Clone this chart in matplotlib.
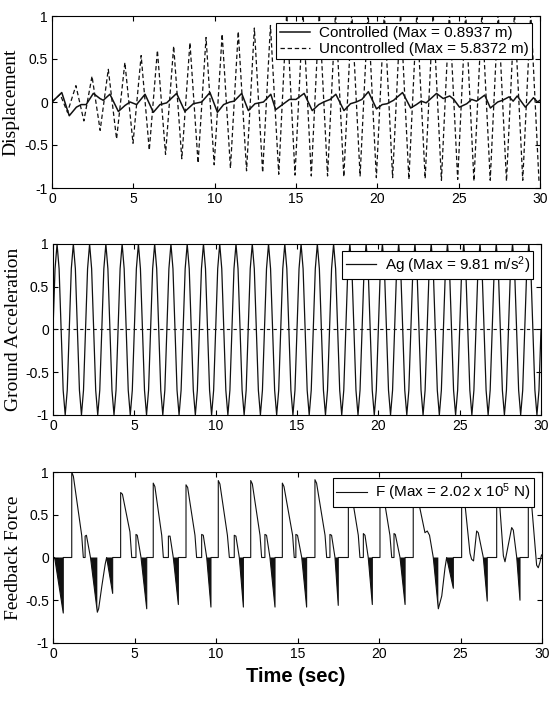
import numpy as np
import matplotlib
matplotlib.use("Agg")
import matplotlib.pyplot as plt

plt.rcParams["font.family"] = ["Liberation Sans", "DejaVu Sans"]
plt.rcParams["axes.unicode_minus"] = False
plt.rcParams["mathtext.fontset"] = "custom"
plt.rcParams["mathtext.rm"] = "Liberation Sans"
plt.rcParams["mathtext.it"] = "Liberation Sans:italic"
plt.rcParams["mathtext.bf"] = "Liberation Sans:bold"

# ---- values (all normalised to +-1) ----
# uncontrolled displacement: extremes of each half cycle (peaks past 1 are clipped by the axes)
unc_t = [0.0, 0.5, 0.95, 1.47, 1.96, 2.46, 2.96, 3.46, 3.97, 4.48, 4.98, 5.48, 5.98,
         6.48, 6.98, 7.48, 7.98, 8.48, 8.98, 9.47, 9.97, 10.46, 10.97, 11.45, 11.96,
         12.44, 12.95, 13.43, 13.94, 14.43, 14.94, 15.43, 15.94, 16.43, 16.94, 17.43,
         17.94, 18.43, 18.94, 19.43, 19.94, 20.43, 20.94, 21.43, 21.94, 22.43, 22.94,
         23.43, 23.94, 24.43, 24.94, 25.43, 25.94, 26.43, 26.94, 27.43, 27.94, 28.43,
         28.94, 29.43, 29.94]
unc_v = [0.0, 0.09, -0.12, 0.19, -0.22, 0.30, -0.33, 0.38, -0.43, 0.46, -0.48, 0.54, -0.56,
         0.60, -0.61, 0.65, -0.66, 0.69, -0.71, 0.75, -0.73, 0.79, -0.77, 0.82, -0.80,
         0.86, -0.82, 0.89, -0.84, 1.05, -0.85, 1.05, -0.86, 1.05, -0.86, 1.05,
         -0.87, 1.05, -0.86, 1.05, -0.88, 1.05, -0.88, 1.05, -0.90, 1.05, -0.89,
         1.05, -0.91, 1.05, -0.90, 1.05, -0.92, 1.05, -0.91, 1.05, -0.92, 1.05,
         -0.91, 1.05, -0.93]

# controlled displacement
ctrl_t = [0.0, 0.6, 1.06, 1.5, 1.8, 2.1, 2.54, 2.95, 3.15, 3.56, 4.08, 4.49, 4.8, 5.2,
          5.72, 6.23, 6.64, 7.05, 7.66, 8.17, 8.69, 9.2, 9.71, 10.17, 10.55, 10.94, 11.2,
          11.66, 12.07, 12.48, 13.0, 13.45, 13.75, 14.1, 14.6, 15.0, 15.5, 16.0, 16.4,
          16.7, 17.1, 17.45, 17.95, 18.35, 18.7, 19.05, 19.45, 19.95, 20.3, 20.6, 21.0,
          21.55, 22.05, 22.4, 22.7, 23.0, 23.64, 24.05, 24.45, 24.7, 25.05, 25.5, 25.8,
          26.1, 26.6, 26.95, 27.4, 27.7, 28.1, 28.35, 28.6, 29.1, 29.6, 29.85, 30.0]
ctrl_v = [0.0, 0.11, -0.16, -0.06, -0.03, -0.03, 0.10, 0.04, 0.02, 0.09, -0.11, -0.04, 0.0,
          -0.03, 0.09, -0.12, -0.03, -0.01, 0.10, -0.11, -0.02, 0.0, 0.11, -0.12, -0.03,
          0.0, 0.01, 0.10, -0.10, -0.02, 0.0, 0.09, -0.09, -0.04, 0.03, 0.03, 0.10, -0.10,
          -0.03, 0.0, 0.03, 0.09, -0.10, -0.02, 0.0, 0.03, 0.12, -0.08, -0.03, -0.02, 0.02,
          0.11, -0.07, -0.03, 0.01, -0.01, 0.10, 0.04, 0.07, 0.03, -0.06, -0.02, 0.03,
          0.01, 0.08, -0.07, 0.0, 0.02, 0.06, 0.01, 0.07, -0.06, 0.05, 0.0, 0.02]

# ground acceleration: one sampled cycle (1 s), repeated for the 30 s record
ag_cycle = [0.0, 0.71, 1.0, 0.71, 0.0, -0.71, -1.0, -0.71]
ag_cycles = 30
ag_period = 1.0

# feedback force outline
f_t = [0, 0.1, 0.63, 0.63, 1.15, 1.15, 1.25, 1.76, 1.86, 1.97, 1.97, 2.05, 2.3, 2.72, 2.8,
       3.0, 3.2, 3.29, 3.66, 3.66, 4.15, 4.15, 4.26, 4.72, 4.83, 5.09, 5.09, 5.17, 5.4,
       5.75, 5.75, 6.15, 6.15, 6.25, 6.67, 6.77, 7.08, 7.08, 7.18, 7.38, 7.69, 7.69, 8.16,
       8.16, 8.26, 8.71, 8.81, 9.12, 9.12, 9.22, 9.43, 9.69, 9.69, 10.14, 10.14, 10.24,
       10.7, 10.82, 11.12, 11.12, 11.22, 11.43, 11.68, 11.68, 12.13, 12.13, 12.23, 12.7,
       12.8, 13.0, 13.0, 13.1, 13.31, 13.62, 13.62, 14.07, 14.07, 14.17, 14.7, 14.8, 14.9,
       14.9, 15.0, 15.26, 15.56, 15.56, 16.07, 16.07, 16.17, 16.69, 16.79, 16.99, 16.99,
       17.09, 17.3, 17.5, 17.5, 18.12, 18.12, 18.22, 18.73, 18.83, 19.04, 19.04, 19.14,
       19.34, 19.59, 19.59, 20.06, 20.06, 20.16, 20.67, 20.78, 20.92, 20.92, 21.0, 21.29,
       21.6, 21.6, 22.1, 22.1, 22.2, 22.82, 22.96, 23.1, 23.33, 23.64, 23.85, 24.05, 24.15,
       24.56, 24.56, 25.07, 25.07, 25.17, 25.58, 25.68, 25.8, 25.99, 26.09, 26.4, 26.64,
       26.64, 27.22, 27.22, 27.32, 27.63, 27.73, 28.14, 28.24, 28.45, 28.65, 28.65, 29.16,
       29.16, 29.26, 29.67, 29.77, 29.87, 29.97]
f_v = [0, 0, -0.65, 0, 0, 1.0, 0.95, 0.26, 0, 0, 0.25, 0.26, 0, -0.64, -0.6,
       -0.33, -0.08, 0, -0.42, 0, 0, 0.76, 0.74, 0.30, 0, 0, 0.27, 0.26, 0,
       -0.6, 0, 0, 0.87, 0.83, 0.26, 0, 0, 0.25, 0.25, 0, -0.55, 0, 0,
       0.85, 0.82, 0.26, 0, 0, 0.27, 0.26, 0, -0.58, 0, 0, 0.9, 0.86,
       0.26, 0, 0, 0.26, 0.25, 0, -0.58, 0, 0, 0.9, 0.86, 0.26,
       0, 0, 0.27, 0.26, 0, -0.58, 0, 0, 0.87, 0.83, 0.26, 0, 0,
       0.27, 0.26, 0, -0.58, 0, 0, 0.91, 0.87, 0.26, 0, 0, 0.27,
       0.26, 0, -0.56, 0, 0, 0.9, 0.86, 0.26, 0, 0, 0.28, 0.26,
       0, -0.55, 0, 0, 0.9, 0.86, 0.26, 0, 0, 0.28, 0.27, 0,
       -0.55, 0, 0, 0.9, 0.86, 0.29, 0.31, 0.26, 0, -0.6, -0.45, -0.12, 0,
       -0.36, 0, 0, 0.86, 0.82, 0.05, -0.02, -0.04, 0.31, 0.29, 0, -0.51,
       0, 0, 0.88, 0.84, 0.02, -0.05, 0.35, 0.32, 0, -0.5, 0, 0,
       0.9, 0.86, -0.09, -0.12, -0.06, 0.03]

# chattering (filled) parts of the force: start, end, lowest value
wedge_t0 = [0.1, 2.3, 3.29, 5.4, 7.38, 9.43, 11.43, 13.31, 15.26, 17.3, 19.34, 21.29,
            23.33, 24.15, 26.4, 28.45]
wedge_t1 = [0.63, 2.72, 3.66, 5.75, 7.69, 9.69, 11.68, 13.62, 15.56, 17.5, 19.59, 21.6,
            23.64, 24.56, 26.64, 28.65]
wedge_min = [-0.65, -0.64, -0.42, -0.6, -0.55, -0.58, -0.58, -0.58, -0.58, -0.56, -0.55,
             -0.55, -0.6, -0.36, -0.51, -0.5]

xticks = [0, 5, 10, 15, 20, 25, 30]
yticks = [-1, -0.5, 0, 0.5, 1]
ytick_labels = ["-1", "-0.5", "0", "0.5", "1"]

W, H = 554, 708
fig = plt.figure(figsize=(W / 100, H / 100), dpi=100)


def px_axes(left, top, right, bottom):
    return fig.add_axes([left / W, 1 - bottom / H, (right - left) / W, (bottom - top) / H])


ax1 = px_axes(52, 16, 540, 188)
ax2 = px_axes(53, 244, 541, 415)
ax3 = px_axes(53, 472, 542, 643)

ink = "#111111"
leg_kw = dict(loc="upper right", borderaxespad=0, fontsize=11, handlelength=2.0,
              handletextpad=0.55, borderpad=0.22, labelspacing=0.12, fancybox=False,
              framealpha=1, edgecolor="black")

# displacement
l_unc, = ax1.plot(unc_t, unc_v, color=ink, lw=0.9, dashes=(3.5, 2.2),
                  label="Uncontrolled (Max = 5.8372 m)")
l_ctrl, = ax1.plot(ctrl_t, ctrl_v, color=ink, lw=1.1, label="Controlled (Max = 0.8937 m)")
lg = ax1.legend(handles=[l_ctrl, l_unc], bbox_to_anchor=(0.983, 0.961), **leg_kw)
lg.get_frame().set_linewidth(0.8)
ax1.set_ylabel("Displacement", family="Liberation Serif", fontsize=14)

# ground acceleration
ag = np.tile(ag_cycle, ag_cycles)
t_ag = np.arange(len(ag)) * ag_period / len(ag_cycle)
ag = np.append(ag, ag_cycle[0])
t_ag = np.append(t_ag, ag_cycles * ag_period)
l_ag, = ax2.plot(t_ag, ag, color=ink, lw=0.9, label="Ag (Max = 9.81 m/s$^2$)")
ax2.axhline(0, color=ink, lw=0.8, dashes=(3, 3))
lg = ax2.legend(handles=[l_ag], bbox_to_anchor=(0.984, 0.961), **leg_kw)
lg.get_frame().set_linewidth(0.8)
ax2.set_ylabel("Ground Acceleration", family="Liberation Serif", fontsize=14)

# feedback force
for a, b, m in zip(wedge_t0, wedge_t1, wedge_min):
    ax3.fill([a, b, b], [0, m, 0], color=ink, lw=0)
l_f, = ax3.plot(f_t, f_v, color=ink, lw=0.8, label="F (Max = 2.02 x 10$^5$ N)")
lg = ax3.legend(handles=[l_f], bbox_to_anchor=(0.984, 0.963), **leg_kw)
lg.get_frame().set_linewidth(0.8)
ax3.set_ylabel("Feedback Force", family="Liberation Serif", fontsize=14)

for ax in (ax1, ax2, ax3):
    ax.set_xlim(0, 30)
    ax.set_ylim(-1, 1)
    ax.set_xticks(xticks)
    ax.set_yticks(yticks)
    ax.set_yticklabels(ytick_labels)
    ax.tick_params(direction="in", top=True, right=True, length=3.5, width=0.8,
                   labelsize=10, pad=3)
    for s in ax.spines.values():
        s.set_linewidth(0.8)
ax1.yaxis.set_label_coords(-0.067, 0.5)
ax2.yaxis.set_label_coords(-0.064, 0.5)
ax3.yaxis.set_label_coords(-0.064, 0.5)

fig.text(296 / W, 1 - 677 / H, "Time (sec)", ha="center", va="center",
         fontsize=14.5, fontweight="bold")

fig.savefig("out.png", dpi=100)
